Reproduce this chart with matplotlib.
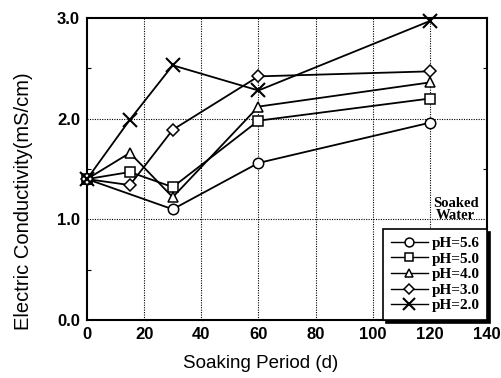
import matplotlib
matplotlib.use("Agg")
import matplotlib.pyplot as plt
from matplotlib.ticker import MultipleLocator

# Electric conductivity of soaked water vs soaking period
days_full = [0, 15, 30, 60, 120]
days_56 = [0, 30, 60, 120]
ec_ph56 = [1.40, 1.10, 1.56, 1.96]
ec_ph50 = [1.40, 1.47, 1.32, 1.98, 2.20]
ec_ph40 = [1.40, 1.66, 1.22, 2.12, 2.36]
ec_ph30 = [1.40, 1.34, 1.89, 2.42, 2.47]
ec_ph20 = [1.40, 1.99, 2.53, 2.28, 2.97]

labels = ["pH=5.6", "pH=5.0", "pH=4.0", "pH=3.0", "pH=2.0"]
x_ticks = [0, 20, 40, 60, 80, 100, 120, 140]
y_ticks = [0.0, 1.0, 2.0, 3.0]

fig = plt.figure(figsize=(5.01, 3.78), dpi=100)
ax = fig.add_axes([0.1737, 0.1534, 0.7984, 0.7990])

series = [
    (days_56, ec_ph56, "o", 7.5),
    (days_full, ec_ph50, "s", 7.5),
    (days_full, ec_ph40, "^", 7.5),
    (days_full, ec_ph30, "D", 6),
    (days_full, ec_ph20, "x", 10),
]
for (xs, ys, m, ms), lab in zip(series, labels):
    ax.plot(xs, ys, color="black", lw=1.3, marker=m, ms=ms,
            mfc="white", mec="black", mew=1.1 if m != "x" else 1.5,
            label=lab, zorder=3, clip_on=False)

ax.set_xlim(0, 140)
ax.set_ylim(0, 3.0)
ax.set_xticks(x_ticks)
ax.set_yticks(y_ticks)
ax.set_yticklabels([f"{v:.1f}" for v in y_ticks])
ax.yaxis.set_minor_locator(MultipleLocator(0.5))
ax.tick_params(which="major", length=0, pad=5)
ax.tick_params(which="minor", axis="y", direction="in", length=3,
               left=True, right=True, width=0.8)
for lab in ax.get_xticklabels() + ax.get_yticklabels():
    lab.set_fontfamily("Liberation Sans")
    lab.set_fontweight("bold")
    lab.set_fontsize(12)

for v in x_ticks[1:-1]:
    ax.axvline(v, color="black", lw=0.8, ls=(0, (1, 1.2)), zorder=1)
for v in [1.0, 2.0]:
    ax.axhline(v, color="black", lw=0.8, ls=(0, (1, 1.2)), zorder=1)

for s in ax.spines.values():
    s.set_linewidth(1.5)

ax.set_xlabel("Soaking Period (d)", fontfamily="Liberation Sans",
              fontsize=13.5)
ax.set_ylabel("Electric Conductivity(mS/cm)", fontfamily="Liberation Sans",
              fontsize=14.5)
ax.xaxis.set_label_coords(0.435, -0.117)
ax.xaxis.label.set_va("top")
ax.yaxis.set_label_coords(-0.135, 0.394)

ax.text(129, 1.10, "Soaked\nWater", ha="center", va="center",
        fontfamily="Liberation Serif", fontweight="bold", fontsize=10.5,
        linespacing=0.95, zorder=4)

leg = ax.legend(loc="lower right", bbox_to_anchor=(1.0, 0.0),
                borderaxespad=0, frameon=True, fancybox=False,
                shadow={"color": "black", "alpha": 1.0},
                prop={"family": "Liberation Serif", "weight": "bold", "size": 11},
                handlelength=2.4, handletextpad=0.25, labelspacing=0.12,
                borderpad=0.5, markerscale=0.85)
leg.get_frame().set_edgecolor("black")
leg.get_frame().set_linewidth(1.2)
leg.set_zorder(5)
for h in leg.get_lines():
    h.set_linewidth(1.0)

fig.savefig("out.png", dpi=100)
